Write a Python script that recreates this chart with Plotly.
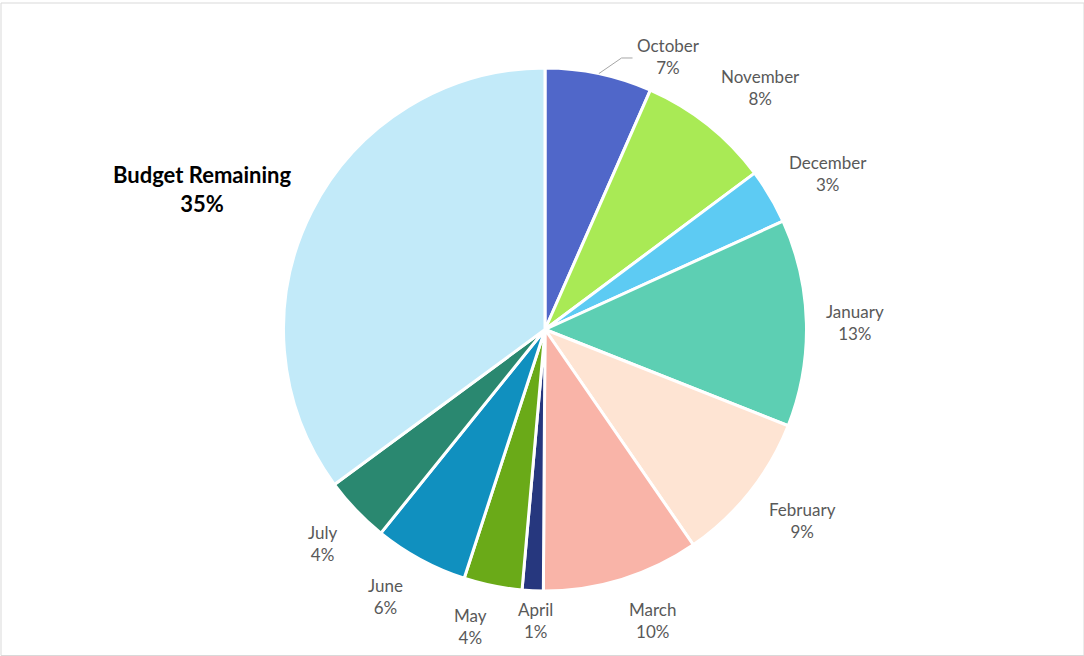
import math
import plotly.graph_objects as go

# budget spend by month, percent of the total budget
months = ['October', 'November', 'December', 'January', 'February', 'March',
          'April', 'May', 'June', 'July', 'Budget Remaining']
spend = [6.6, 8.2, 3.4, 12.8, 9.4, 9.7, 1.3, 3.6, 5.8, 4.1, 35.1]

colors = ['#5067C9', '#A9EA55', '#5DCBF3', '#5DCFB3', '#FEE4D3', '#F9B4A8',
          '#26377E', '#6AAA18', '#1090BF', '#2A8870', '#C2EAF9']

W, H = 1084, 656
cx, cy, r = 545, 329.5, 261.5
gap = 18
font_family = 'Lato, Open Sans, sans-serif'
label_grey = '#595959'

fig = go.Figure()
fig.add_trace(go.Pie(labels=months, values=spend, sort=False, direction='clockwise',
                     rotation=0, textinfo='none', hoverinfo='label+percent',
                     marker={'colors': colors, 'line': {'color': 'white', 'width': 3}},
                     domain={'x': [(cx - r) / W, (cx + r) / W],
                             'y': [1 - (cy + r) / H, 1 - (cy - r) / H]},
                     showlegend=False))

# Excel-style outside labels placed from each slice's mid angle
total = sum(spend)
nudge = {'October': (32, 24), 'December': (1, 10), 'February': (3, -7),
         'April': (4, -12), 'June': (-7, -2), 'July': (-4, -3),
         'Budget Remaining': (-2, 16)}
cum = 0
for name, v in zip(months, spend):
    mid = (cum + v / 2) / total * 2 * math.pi
    cum += v
    s, c = math.sin(mid), math.cos(mid)
    ax, ay = cx + (r + gap) * s, cy - (r + gap) * c
    xa = 'left' if s > 0.15 else ('right' if s < -0.15 else 'center')
    ya = 'bottom' if c > 0.3 else ('top' if c < -0.3 else 'middle')
    dx, dy = nudge.get(name, (0, 0))
    ax, ay = ax + dx, ay + dy
    pct = int(v / total * 100 + 0.5)
    bold = name == 'Budget Remaining'
    text = f'<b>{name}<br>{pct}%</b>' if bold else f'{name}<br>{pct}%'
    fig.add_annotation(x=ax / W, y=1 - ay / H, xref='paper', yref='paper',
                       text=text, showarrow=False, xanchor=xa, yanchor=ya,
                       align='center',
                       font={'family': font_family, 'size': 22 if bold else 17,
                             'color': 'black' if bold else label_grey})
    if name == 'October':
        ex, ey = cx + r * s, cy - r * c
        lx, ly = ax, ay - 22
        fig.add_shape(type='path', xref='paper', yref='paper',
                      path=f'M {ex / W} {1 - ey / H} L {(lx - 13) / W} {1 - ly / H} L {(lx - 2) / W} {1 - ly / H}',
                      line={'color': '#A6A6A6', 'width': 1})

# chart area border
fig.add_shape(type='rect', xref='paper', yref='paper', x0=1 / W, y0=0.5 / H, x1=1, y1=1 - 3 / H,
              line={'color': '#D9D9D9', 'width': 1})

fig.update_layout(width=W, height=H, margin={'l': 0, 'r': 0, 't': 0, 'b': 0},
                  paper_bgcolor='white', plot_bgcolor='white',
                  font={'family': font_family})
fig.write_html('out.html', config={'displayModeBar': False},
               post_script="document.body.style.margin='0';")
